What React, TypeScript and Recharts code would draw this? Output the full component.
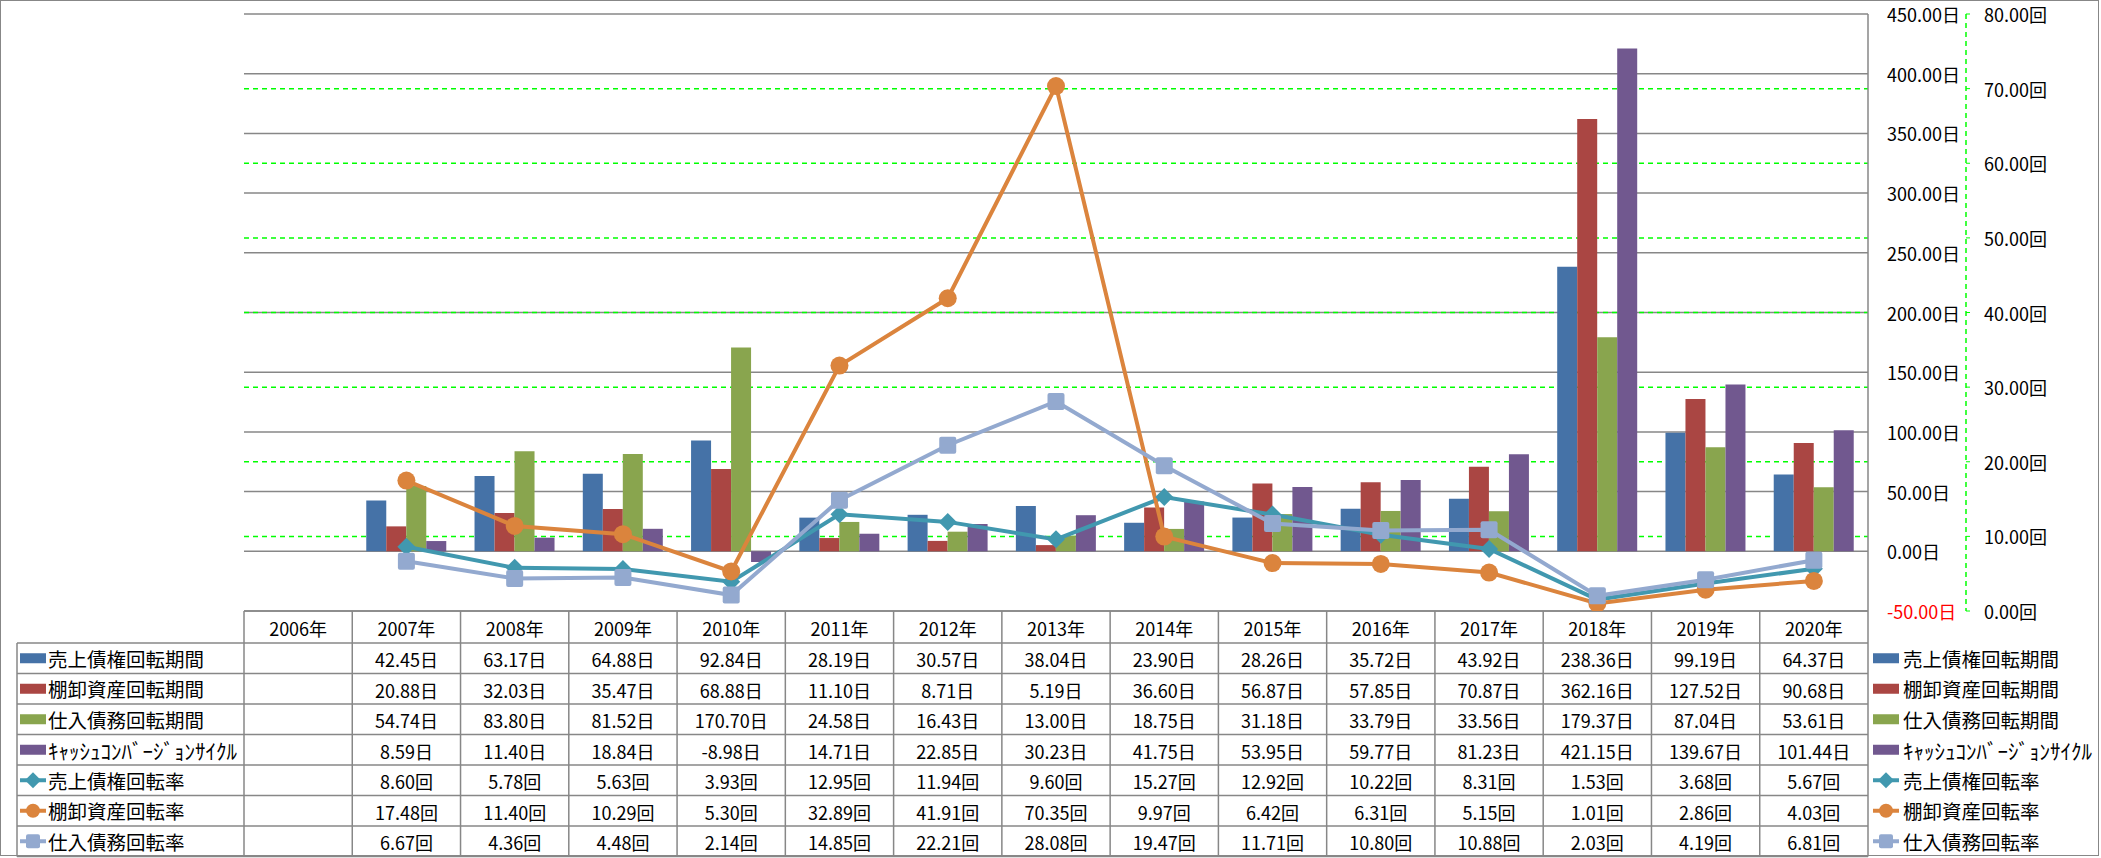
import React from 'react';
import { ComposedChart, Bar, Line, XAxis, YAxis, CartesianGrid } from 'recharts';

// ---------------- data ----------------
const years = ['2006年', '2007年', '2008年', '2009年', '2010年', '2011年', '2012年', '2013年', '2014年', '2015年', '2016年', '2017年', '2018年', '2019年', '2020年'];
const arDays = [null, 42.45, 63.17, 64.88, 92.84, 28.19, 30.57, 38.04, 23.9, 28.26, 35.72, 43.92, 238.36, 99.19, 64.37];
const invDays = [null, 20.88, 32.03, 35.47, 68.88, 11.1, 8.71, 5.19, 36.6, 56.87, 57.85, 70.87, 362.16, 127.52, 90.68];
const apDays = [null, 54.74, 83.8, 81.52, 170.7, 24.58, 16.43, 13.0, 18.75, 31.18, 33.79, 33.56, 179.37, 87.04, 53.61];
const cccDays = [null, 8.59, 11.4, 18.84, -8.98, 14.71, 22.85, 30.23, 41.75, 53.95, 59.77, 81.23, 421.15, 139.67, 101.44];
const arRate = [null, 8.6, 5.78, 5.63, 3.93, 12.95, 11.94, 9.6, 15.27, 12.92, 10.22, 8.31, 1.53, 3.68, 5.67];
const invRate = [null, 17.48, 11.4, 10.29, 5.3, 32.89, 41.91, 70.35, 9.97, 6.42, 6.31, 5.15, 1.01, 2.86, 4.03];
const apRate = [null, 6.67, 4.36, 4.48, 2.14, 14.85, 22.21, 28.08, 19.47, 11.71, 10.8, 10.88, 2.03, 4.19, 6.81];
const dayTicks = [-50, 0, 50, 100, 150, 200, 250, 300, 350, 400, 450];
const rateTicks = [0, 10, 20, 30, 40, 50, 60, 70, 80];
const rateGridValues = [10, 20, 30, 40, 50, 60, 70];
const dayUnit = '日';
const rateUnit = '回';

type Series = { key: string; name: string; values: (number | null)[]; color: string; kind: 'bar' | 'line'; shape?: 'diamond' | 'circle' | 'square'; unit: string; narrow?: boolean };
const series: Series[] = [
  { key: 'arDays', name: '売上債権回転期間', values: arDays, color: '#4572A7', kind: 'bar', unit: dayUnit },
  { key: 'invDays', name: '棚卸資産回転期間', values: invDays, color: '#AA4643', kind: 'bar', unit: dayUnit },
  { key: 'apDays', name: '仕入債務回転期間', values: apDays, color: '#89A54E', kind: 'bar', unit: dayUnit },
  { key: 'cccDays', name: 'ｷｬｯｼｭｺﾝﾊﾞｰｼﾞｮﾝｻｲｸﾙ', values: cccDays, color: '#71588F', kind: 'bar', unit: dayUnit, narrow: true },
  { key: 'arRate', name: '売上債権回転率', values: arRate, color: '#4198AF', kind: 'line', shape: 'diamond', unit: rateUnit },
  { key: 'invRate', name: '棚卸資産回転率', values: invRate, color: '#DB843D', kind: 'line', shape: 'circle', unit: rateUnit },
  { key: 'apRate', name: '仕入債務回転率', values: apRate, color: '#93A9CF', kind: 'line', shape: 'square', unit: rateUnit },
];

const data = years.map((y, i) => {
  const row: Record<string, any> = { year: y };
  series.forEach((s) => { row[s.key] = s.values[i]; });
  return row;
});

// ---------------- layout ----------------
const W = 2101;
const H = 858;
const PLOT_LEFT = 244;
const PLOT_RIGHT = 1868;
const PLOT_TOP = 14;
const PLOT_BOTTOM = 611;
const COL_W = (PLOT_RIGHT - PLOT_LEFT) / years.length;
const HEADER_BOTTOM = 643;
const ROW_H = 30.5;
const TABLE_LEFT = 17;
const TABLE_BOTTOM = HEADER_BOTTOM + ROW_H * series.length;
const GRAY = '#878787';
const GREEN = '#00FF00';
const FONT = "'Noto Sans CJK JP', 'Noto Sans', sans-serif";
const FS = 18;

const rowCenter = (r: number) => HEADER_BOTTOM + ROW_H * r + ROW_H / 2;

const Marker = ({ shape, cx, cy, color, size }: { shape?: string; cx: number; cy: number; color: string; size: number }) => {
  if (shape === 'diamond') {
    return <polygon points={`${cx},${cy - size} ${cx + size},${cy} ${cx},${cy + size} ${cx - size},${cy}`} fill={color} />;
  }
  if (shape === 'circle') {
    return <circle cx={cx} cy={cy} r={size} fill={color} />;
  }
  return <rect x={cx - size} y={cy - size} width={size * 2} height={size * 2} rx={2} fill={color} />;
};

const LegendIcon = ({ s, x, cy }: { s: Series; x: number; cy: number }) => {
  if (s.kind === 'bar') return <rect x={x} y={cy - 5} width={26} height={10} fill={s.color} />;
  return (
    <g>
      <line x1={x} x2={x + 26} y1={cy} y2={cy} stroke={s.color} strokeWidth={4} />
      <Marker shape={s.shape} cx={x + 13} cy={cy} color={s.color} size={s.shape === 'diamond' ? 8 : 7} />
    </g>
  );
};

const LegendText = ({ s, x, cy }: { s: Series; x: number; cy: number }) => (
  <text x={x} y={cy} dominantBaseline="central" fontFamily={FONT} fontSize={s.narrow ? 21 : 19.5} fill="#000">{s.name}</text>
);

const TableStatic = () => (
  <g>
    {series.map((_, r) => (
      <line key={`h${r}`} x1={TABLE_LEFT} x2={PLOT_RIGHT} y1={HEADER_BOTTOM + ROW_H * r} y2={HEADER_BOTTOM + ROW_H * r} stroke={GRAY} strokeWidth={1.5} />
    ))}
    <line x1={TABLE_LEFT} x2={PLOT_RIGHT} y1={TABLE_BOTTOM} y2={TABLE_BOTTOM} stroke={GRAY} strokeWidth={1.5} />
    <line x1={TABLE_LEFT} x2={TABLE_LEFT} y1={HEADER_BOTTOM} y2={TABLE_BOTTOM} stroke={GRAY} strokeWidth={1.5} />
    <line x1={PLOT_RIGHT} x2={PLOT_RIGHT} y1={PLOT_BOTTOM} y2={TABLE_BOTTOM} stroke={GRAY} strokeWidth={1.5} />
    {series.map((s, r) => (
      <g key={`l${r}`}>
        <LegendIcon s={s} x={20} cy={rowCenter(r)} />
        <LegendText s={s} x={48} cy={rowCenter(r)} />
      </g>
    ))}
    {series.map((s, r) => (
      <g key={`r${r}`}>
        <LegendIcon s={s} x={1873} cy={rowCenter(r)} />
        <LegendText s={s} x={1903} cy={rowCenter(r)} />
      </g>
    ))}
  </g>
);

const TableTick = (props: any) => {
  const { x, payload } = props;
  const i: number = payload.index;
  const half = COL_W / 2;
  return (
    <g>
      {i === 0 && <TableStatic />}
      <line x1={x - half} x2={x - half} y1={PLOT_BOTTOM} y2={TABLE_BOTTOM} stroke={GRAY} strokeWidth={1.5} />
      <text x={x} y={(PLOT_BOTTOM + HEADER_BOTTOM) / 2 + 1} textAnchor="middle" dominantBaseline="central" fontFamily={FONT} fontSize={FS} fill="#000">{payload.value}</text>
      {series.map((s, r) => {
        const v = s.values[i];
        if (v == null) return null;
        return (
          <text key={s.key} x={x} y={rowCenter(r) + 1} textAnchor="middle" dominantBaseline="central" fontFamily={FONT} fontSize={FS} fill="#000">
            {v.toFixed(2)}{s.unit}
          </text>
        );
      })}
    </g>
  );
};

const DaysTick = (props: any) => {
  const { x, y, payload } = props;
  const v: number = payload.value;
  return (
    <text x={x} y={y} textAnchor="start" dominantBaseline="central" fontFamily={FONT} fontSize={FS} fill={v < 0 ? '#FF0000' : '#000'}>
      {v.toFixed(2)}{dayUnit}
    </text>
  );
};

const RateTick = (props: any) => {
  const { x, y, payload } = props;
  const v: number = payload.value;
  return (
    <text x={x} y={y} textAnchor="start" dominantBaseline="central" fontFamily={FONT} fontSize={FS} fill="#000">
      {v.toFixed(2)}{rateUnit}
    </text>
  );
};

const makeDot = (s: Series) => (p: any) => {
  const { cx, cy, index, value } = p;
  if (value == null || cy == null || isNaN(cy)) return <g key={`d${s.key}${index}`} />;
  return (
    <g key={`d${s.key}${index}`}>
      <Marker shape={s.shape} cx={cx} cy={cy} color={s.color} size={s.shape === 'diamond' ? 9 : s.shape === 'circle' ? 9 : 8.5} />
    </g>
  );
};

export default function App() {
  return (
    <div style={{ position: 'absolute', left: 0, top: 0, width: W, height: H, background: '#fff' }}>
      <ComposedChart width={W} height={H} data={data} margin={{ top: PLOT_TOP, right: 0, bottom: 0, left: PLOT_LEFT }} barGap={0} barSize={20}>
        <CartesianGrid yAxisId="days" vertical={false} stroke={GRAY} strokeWidth={1.5} />
        <CartesianGrid yAxisId="rate" vertical={false} stroke={GREEN} strokeDasharray="5 4" strokeWidth={1.5} horizontalValues={rateGridValues} />
        <XAxis dataKey="year" height={H - PLOT_BOTTOM} interval={0} tickLine={false} tickSize={0} tickMargin={0} axisLine={{ stroke: GRAY, strokeWidth: 1.5 }} tick={<TableTick />} />
        <YAxis yAxisId="days" orientation="right" domain={[-50, 450]} ticks={dayTicks} width={98} axisLine={{ stroke: GRAY, strokeWidth: 1.5 }} tickLine={false} tickSize={0} tickMargin={19} tick={<DaysTick />} allowDataOverflow />
        <YAxis yAxisId="rate" orientation="right" domain={[0, 80]} ticks={rateTicks} width={W - PLOT_RIGHT - 98} axisLine={{ stroke: GREEN, strokeDasharray: '5 4', strokeWidth: 1.5 }} tickLine={{ stroke: GREEN }} tickSize={4} tickMargin={14} tick={<RateTick />} allowDataOverflow />
        {series.filter((s) => s.kind === 'bar').map((s) => (
          <Bar key={s.key} yAxisId="days" dataKey={s.key} name={s.name} fill={s.color} isAnimationActive={false} />
        ))}
        {series.filter((s) => s.kind === 'line').map((s) => (
          <Line key={s.key} yAxisId="rate" dataKey={s.key} name={s.name} stroke={s.color} strokeWidth={4} dot={makeDot(s)} activeDot={false} isAnimationActive={false} />
        ))}
      </ComposedChart>
      <div style={{ position: 'absolute', left: 0, top: 0, width: W - 2, height: H - 2, border: `1.5px solid ${GRAY}`, pointerEvents: 'none', boxSizing: 'border-box' }} />
    </div>
  );
}
